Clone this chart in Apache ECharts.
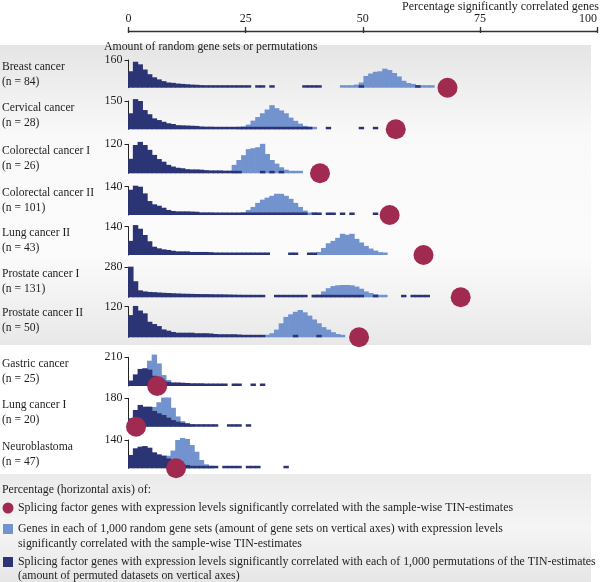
<!DOCTYPE html>
<html><head><meta charset="utf-8">
<script src="https://cdn.jsdelivr.net/npm/echarts@6/dist/echarts.min.js"></script>
<style>html,body{margin:0;padding:0;background:#fff}#c{width:600px;height:582px}</style>
</head><body><div id="c"></div>
<script>
// ---------------- DATA ----------------
const panelNames = ['Breast cancer','Cervical cancer','Colorectal cancer I','Colorectal cancer II','Lung cancer II','Prostate cancer I','Prostate cancer II','Gastric cancer','Lung cancer I','Neuroblastoma'];
const panelN = [84, 28, 26, 101, 43, 131, 50, 25, 20, 47];
const yMaxLabels = [160, 150, 120, 140, 140, 280, 120, 210, 180, 140];
const topTickLabels = [0, 25, 50, 75, 100];
// percentage of splicing factor genes correlated with TIN (red dots)
const dotPct = [67.8, 56.8, 40.7, 55.5, 62.7, 70.6, 49.0, 6.1, 1.6, 10.1];
// permutation histograms (dark), 1% bins starting at 0%
const permBreast = [95,150,135,105,78,60,48,38,30,28,24,22,20,18,17,15,14,14,13,12,12,11,10,8,4,4,0,4,4,0,3,0,0,0,0,0,0,3,3,3,3,0,0,0,0,0,0,0,0,3,0,0,0,0,0,0,0,0,0,0,0,3];
const permCervical = [85,160,150,102,80,58,49,40,32,28,22,21,20,19,18,15,14,14,13,13,12,12,10,8,6,5,5,4,4,4,4,4,4,4,3,3,3,3,3,0,0,0,3,0,0,0,0,0,0,3,0,0,3];
const permColo1 = [60,117,130,117,97,76,59,48,35,28,23,21,17,16,16,15,13,12,12,12,11,11,10,8,0,0,0,0,3,0,3,0,3];
const permColo2 = [125,145,140,107,69,53,46,36,25,20,18,18,18,17,16,13,13,13,12,12,10,10,10,9,8,6,5,4,4,3,4,3,4,4,3,3,3,3,0,3,3,0,3,3,0,3,0,3,0,0,0,0,3];
const permLung2 = [70,148,130,99,68,41,33,28,25,21,18,18,18,15,15,15,15,14,12,12,12,11,11,10,8,4,4,4,4,4,0,0,0,0,4,4,0,0,4,4];
const permPros1 = [286,150,65,55,50,48,45,42,40,38,36,34,33,32,31,30,30,29,28,28,27,26,25,24,23,22,20,18,16,0,0,8,8,6,8,8,8,6,0,8,8,8,8,8,8,8,8,8,8,6,0,0,6,0,0,0,0,0,6,0,6,6,6,6];
const permPros2 = [87,123,105,94,61,52,44,31,26,21,18,18,18,18,16,16,16,15,13,12,12,12,12,11,9,4,4,4,4,0,0,0,0,0,0,3,0,0,0,0,3];
const permGastric = [40,85,125,130,120,75,50,38,30,26,26,24,22,20,20,20,18,18,16,6,6,0,6,6,0,0,5,0,5];
const permLung1 = [53,106,138,127,127,100,85,74,57,42,32,25,21,16,15,15,14,14,12,0,0,6,6,6,0,6];
const permNeuro = [66,99,107,110,102,79,69,63,49,36,25,20,16,12,10,10,9,8,8,0,5,5,5,5,0,5,5,5,0,0,0,0,0,5];
// random gene set histograms (light), 1% bins starting at randStart
const randStart = [45, 23, 22, 24, 40, 39, 29, 2, 3, 8];
const randBreast = [9,10,12,18,30,68,82,92,95,110,102,85,65,40,27,22,15,10,5,4];
const randCervical = [8,15,25,46,65,85,105,128,112,100,85,62,45,30,18,10,5];
const randColo1 = [35,55,75,100,104,108,122,80,55,40,25,15,10,7,6];
const randColo2 = [10,25,40,60,76,86,95,105,105,95,80,60,40,22,12,6];
const randLung2 = [15,35,58,70,85,105,100,105,80,62,45,32,22,14,8];
const randPros1 = [10,25,55,85,105,112,115,115,112,100,80,55,40,28,12,6];
const randPros2 = [10,16,30,55,80,90,100,107,98,85,70,55,40,30,20,13,9];
const randGastric = [40,110,185,230,165,80,44,20,8];
const randLung1 = [50,90,125,155,185,185,120,65,35,22,15];
const randNeuro = [62,88,140,150,145,115,82,41,20,10];

const permData = [permBreast, permCervical, permColo1, permColo2, permLung2, permPros1, permPros2, permGastric, permLung1, permNeuro];
const randData = [randBreast, randCervical, randColo1, randColo2, randLung2, randPros1, randPros2, randGastric, randLung1, randNeuro];

const nameDot = 'Splicing factor genes with expression levels significantly correlated with the sample-wise TIN-estimates';
const nameRand = 'Genes in each of 1,000 random gene sets (amount of gene sets on vertical axes) with expression levels significantly correlated with the sample-wise TIN-estimates';
const namePerm = 'Splicing factor genes with expression levels significantly correlated with each of 1,000 permutations of the TIN-estimates (amount of permuted datasets on vertical axes)';

// ---------------- LAYOUT / STYLE ----------------
const FONT = '"Liberation Serif", "Times New Roman", serif';
const TXT = '#1e1e1e';
const C_DARK = '#2b3475', C_LIGHT = '#7393cf', C_RED = '#a12a50';
const L = { left: 128.5, width: 470.5, axisY: 30,
  tops: [60, 101, 144.3, 186.7, 226.7, 267.3, 306.7, 357.3, 398.3, 440],
  heights: [27.7, 28.3, 29, 28.3, 28.3, 30, 30.6, 28.7, 28.4, 28.3] };
const NBINS = 100;
const binCats = Array.from({length: NBINS}, (_, i) => String(i));

function fullBins(arr, start) {
  const out = new Array(NBINS).fill('-');
  arr.forEach((v, i) => { if (v > 0) out[start + i] = v; });
  return out;
}

const grid = [{ left: L.left, width: L.width, top: L.axisY, height: 1 }];
const xAxis = [
  { gridIndex: 0, type: 'value', min: 0, max: 100, interval: 25, position: 'top',
    axisLine: { lineStyle: { color: '#333', width: 1.3 } },
    axisTick: { length: 4, lineStyle: { color: '#333', width: 1.3 } },
    axisLabel: { customValues: topTickLabels, fontFamily: FONT, fontSize: 12, color: TXT, margin: 5, alignMaxLabel: 'right' },
    splitLine: { show: false } },
  { gridIndex: 0, type: 'value', min: 0, max: 100, interval: 25, position: 'top',
    axisLine: { show: false },
    axisTick: { inside: true, length: 3, lineStyle: { color: '#333', width: 1.3 } },
    axisLabel: { show: false }, splitLine: { show: false } }
];
const yAxis = [{ gridIndex: 0, type: 'value', show: false }];
const series = [];

panelNames.forEach((nm, i) => {
  const g = i + 1;
  grid.push({ left: L.left, width: L.width, top: L.tops[i], height: L.heights[i] });
  const catIdx = xAxis.length;
  xAxis.push({ gridIndex: g, type: 'category', data: binCats, show: false, boundaryGap: true });
  const valIdx = xAxis.length;
  xAxis.push({ gridIndex: g, type: 'value', min: 0, max: 100, show: false });
  yAxis.push({ gridIndex: g, type: 'value', min: 0, max: yMaxLabels[i],
    axisLine: { show: true, lineStyle: { color: '#222', width: 1 } },
    axisTick: { show: true, length: 4, customValues: [yMaxLabels[i]], lineStyle: { color: '#222', width: 1 } },
    axisLabel: { customValues: [yMaxLabels[i]], fontFamily: FONT, fontSize: 12, color: TXT, margin: 6 },
    splitLine: { show: false } });
  series.push({ type: 'bar', name: nameRand, xAxisIndex: catIdx, yAxisIndex: g,
    data: fullBins(randData[i], randStart[i]), barWidth: 5.4, barGap: '-100%', barMinHeight: 2.5,
    clip: false, itemStyle: { color: C_LIGHT }, z: 2, silent: true });
  series.push({ type: 'bar', name: namePerm, xAxisIndex: catIdx, yAxisIndex: g,
    data: fullBins(permData[i], 0), barWidth: 5.4, barGap: '-100%', barMinHeight: 2.5,
    clip: false, itemStyle: { color: C_DARK }, z: 3, silent: true });
  series.push({ type: 'scatter', name: nameDot, xAxisIndex: valIdx, yAxisIndex: g,
    data: [[dotPct[i], 0]], symbolSize: 20, clip: false, itemStyle: { color: C_RED, opacity: 1 }, z: 5, silent: true });
});

const graphic = [];
// backgrounds
graphic.push({ type: 'rect', z: -10, shape: { x: 0, y: 45, width: 591, height: 300 },
  style: { fill: { type: 'linear', x: 0, y: 0, x2: 0, y2: 1, colorStops: [
    { offset: 0, color: '#e5e5e5' }, { offset: 0.3, color: '#f9f9f9' }, { offset: 0.7, color: '#fbfbfb' }, { offset: 1, color: '#e8e8e8' }] } } });
graphic.push({ type: 'rect', z: -10, shape: { x: 0, y: 474, width: 591, height: 108 },
  style: { fill: { type: 'linear', x: 0, y: 0, x2: 0, y2: 1, colorStops: [
    { offset: 0, color: '#ebebeb' }, { offset: 0.5, color: '#f5f5f5' }, { offset: 1, color: '#e6e6e6' }] } } });
function txt(text, x, y, align, size) {
  graphic.push({ type: 'text', x: x, y: y, z: 10,
    style: { text: text, font: (size || 12) + 'px ' + FONT, fill: TXT, align: align || 'left', verticalAlign: 'middle' } });
}
txt('Percentage significantly correlated genes', 599, 7, 'right');
txt('Amount of random gene sets or permutations', 104, 47, 'left', 11.8);
panelNames.forEach((nm, i) => {
  txt(nm, 2, L.tops[i] + 6.5, 'left', 11.6);
  txt('(n = ' + panelN[i] + ')', 2, L.tops[i] + 21.5, 'left', 11.6);
});
// legend
const LS = 11.85;
txt('Percentage (horizontal axis) of:', 2, 490, 'left', LS);
graphic.push({ type: 'circle', z: 10, shape: { cx: 8, cy: 508, r: 5.5 }, style: { fill: C_RED } });
txt(nameDot, 18, 508, 'left', LS);
graphic.push({ type: 'rect', z: 10, shape: { x: 3, y: 524, width: 10, height: 10 }, style: { fill: C_LIGHT } });
txt('Genes in each of 1,000 random gene sets (amount of gene sets on vertical axes) with expression levels', 18, 529, 'left', LS);
txt('significantly correlated with the sample-wise TIN-estimates', 18, 544, 'left', LS);
graphic.push({ type: 'rect', z: 10, shape: { x: 3, y: 557, width: 10, height: 10 }, style: { fill: C_DARK } });
txt('Splicing factor genes with expression levels significantly correlated with each of 1,000 permutations of the TIN-estimates', 18, 562, 'left', LS);
txt('(amount of permuted datasets on vertical axes)', 18, 576, 'left', LS);

const chart = echarts.init(document.getElementById('c'), null, { renderer: 'canvas' });
chart.setOption({ animation: false, backgroundColor: '#ffffff', textStyle: { fontFamily: FONT },
  grid: grid, xAxis: xAxis, yAxis: yAxis, series: series, graphic: graphic });
</script></body></html>
